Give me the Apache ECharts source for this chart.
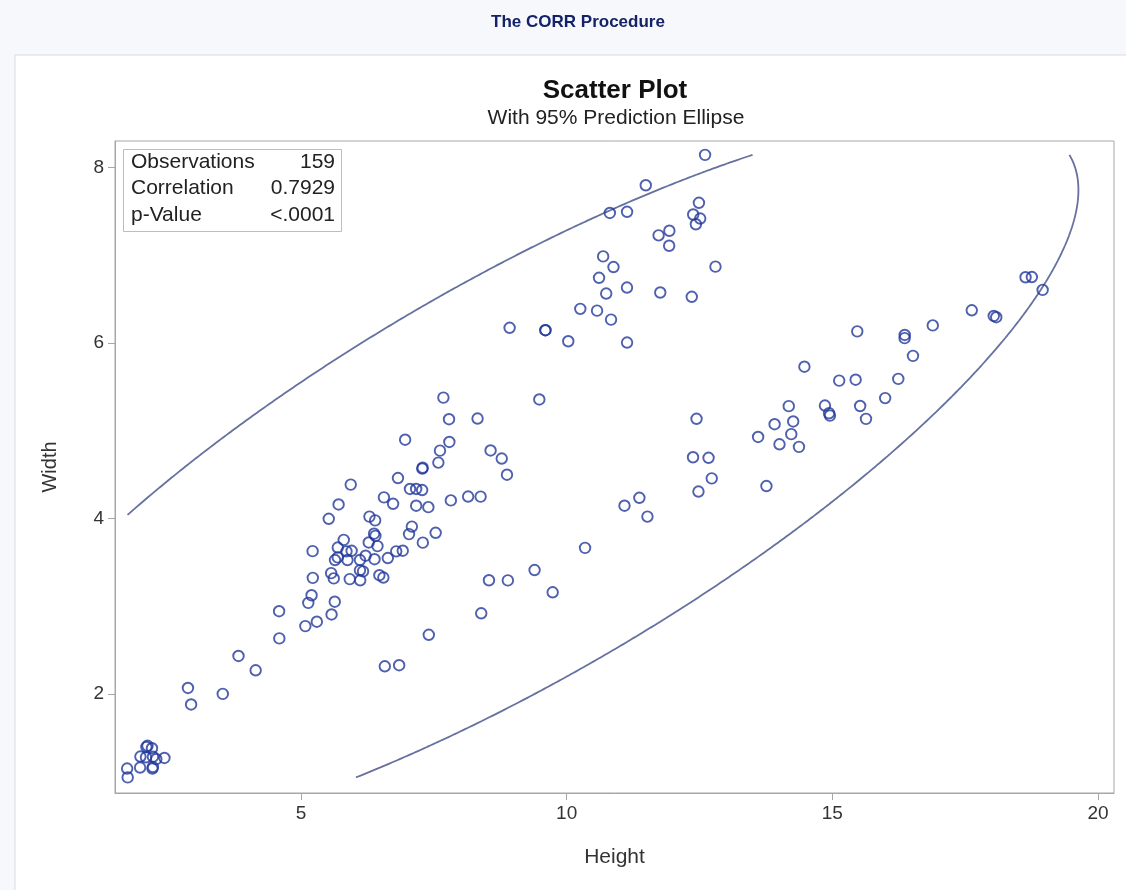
<!DOCTYPE html>
<html><head><meta charset="utf-8">
<script src="https://cdn.jsdelivr.net/npm/echarts@6/dist/echarts.min.js"></script>
<style>html,body{margin:0;padding:0;background:#f7f8fb;}#c{width:1126px;height:890px;}</style>
</head><body><div id="c"></div>
<script>
// Fish data: Height and Width by species
const breamHeight = [11.52,12.48,12.3778,12.73,12.444,13.6024,14.1795,12.67,14.0049,14.2266,14.2628,14.3714,13.7592,13.9129,14.9544,15.438,14.8604,14.938,15.633,14.4738,15.1285,15.9936,15.5227,15.4686,16.2405,16.36,16.3618,16.517,16.8896,18.957,18.0369,18.084,18.7542,18.6354,17.6235];
const breamWidth  = [4.02,4.3056,4.6961,4.4555,5.134,4.9274,5.2785,4.69,4.8438,4.9594,5.1042,4.8146,4.368,5.0728,5.1708,5.58,5.2854,5.1975,5.1338,5.7276,5.5695,5.3704,5.2801,6.1306,5.589,6.0532,6.09,5.8515,6.1984,6.603,6.3063,6.292,6.7497,6.7473,6.3705];
const roachHeight = [4.1472,5.2983,5.5756,5.6166,6.216,6.4752,6.1677,6.1146,5.8045,6.6339,7.0334,6.55,6.4,7.5344,6.9153,7.3968,7.0866,8.8768,8.568,9.485];
const roachWidth  = [2.268,2.8217,2.9044,3.3153,3.5742,3.3516,3.3957,3.2943,3.7544,3.5478,3.8203,3.325,3.8,3.8352,3.6312,4.1272,3.906,4.4968,4.7736,5.355];
const whitefishHeight = [8.3804,8.1454,8.778,10.744,11.7612,12.354];
const whitefishWidth  = [4.2476,4.2485,4.6816,6.562,6.5736,6.525];
const parkkiHeight = [6.8475,6.5772,7.4052,8.3922,8.8928,8.5376,9.396,9.7364,10.3458,11.088,11.368];
const parkkiWidth  = [2.3265,2.3142,2.673,2.9181,3.2928,3.2944,3.4104,3.1571,3.6636,4.144,4.234];
const perchHeight = [2.112,3.528,3.824,4.5924,4.588,5.2224,5.1992,5.6358,5.1376,5.082,5.6925,5.9175,5.6925,6.384,6.11,5.64,6.11,5.875,5.5225,5.856,6.792,5.9532,5.2185,6.275,7.293,6.375,6.7334,6.4395,6.561,7.168,8.323,7.1672,7.0516,7.2828,7.8204,7.5852,7.6156,10.03,10.2565,11.4884,10.881,10.6091,10.835,10.5717,11.1366,11.1366,12.4313,11.9286,11.73,12.3808,11.135,12.8002,11.9328,12.5125,12.604,12.4888];
const perchWidth  = [1.408,1.9992,2.432,2.6316,2.9415,3.3216,3.1234,3.0502,3.0368,2.772,3.555,3.3075,3.6675,3.534,3.4075,3.525,3.525,3.525,3.995,3.624,3.624,3.63,3.626,3.725,3.723,3.825,4.1658,3.6835,4.239,4.144,5.1373,4.335,4.335,4.5662,4.2042,4.6354,4.7716,6.018,6.3875,7.7957,6.864,6.7408,6.2646,6.3666,7.4934,6.003,7.3514,7.1064,7.225,7.4624,6.63,6.8684,7.2772,7.4165,8.142,7.5958];
const pikeHeight = [5.568,5.7078,5.9364,6.2884,7.29,6.396,7.28,6.825,7.786,6.96,7.792,7.68,8.9262,10.6863,9.6,9.6,10.812];
const pikeWidth  = [3.3756,4.158,4.3844,4.0198,4.5765,3.977,4.3225,4.459,5.1296,4.896,4.87,5.376,6.1712,6.9849,6.144,6.144,7.48];
const smeltHeight = [1.7388,1.972,1.7284,2.196,2.0832,1.9782,2.2139,2.2139,2.2044,2.0904,2.43,2.277,2.8728,2.9322];
const smeltWidth  = [1.0476,1.16,1.1484,1.38,1.2772,1.2852,1.2838,1.1659,1.1484,1.3936,1.269,1.2558,2.0672,1.8792];

const xTicks = [5, 10, 15, 20];
const yTicks = [2, 4, 6, 8];
const statLabels = ['Observations', 'Correlation', 'p-Value'];
const statValues = ['159', '0.7929', '<.0001'];

const height = [].concat(breamHeight, roachHeight, whitefishHeight, parkkiHeight, perchHeight, pikeHeight, smeltHeight);
const width  = [].concat(breamWidth, roachWidth, whitefishWidth, parkkiWidth, perchWidth, pikeWidth, smeltWidth);
const points = height.map((h, i) => [h, width[i]]);

// 95% prediction ellipse from the sample mean and covariance
const n = height.length;
const mx = height.reduce((a, b) => a + b, 0) / n;
const my = width.reduce((a, b) => a + b, 0) / n;
let sxx = 0, syy = 0, sxy = 0;
for (let i = 0; i < n; i++) {
  const dx = height[i] - mx, dy = width[i] - my;
  sxx += dx * dx; syy += dy * dy; sxy += dx * dy;
}
sxx /= (n - 1); syy /= (n - 1); sxy /= (n - 1);
const Fq = ((n - 2) / 2) * (Math.pow(0.05, -2 / (n - 2)) - 1); // F(0.95; 2, n-2)
const cval = 2 * (n - 1) * (n + 1) / (n * (n - 2)) * Fq;
const r = Math.sqrt(cval);
const la = Math.sqrt(sxx), lb = sxy / la, ld = Math.sqrt(syy - lb * lb);
function ell(t) {
  const u = Math.cos(t), v = Math.sin(t);
  return [mx + r * la * u, my + r * (lb * u + ld * v)];
}
const xlo = Math.min(...height), ylo = Math.min(...width), yhi = Math.max(...width);
function inside(p) { return p[0] >= xlo && p[1] >= ylo && p[1] <= yhi; }
function cross(t0, t1) {
  const in0 = inside(ell(t0));
  for (let k = 0; k < 40; k++) {
    const tm = (t0 + t1) / 2;
    if (inside(ell(tm)) === in0) t0 = tm; else t1 = tm;
  }
  return ell((t0 + t1) / 2);
}
const N = 1440;
let startIdx = 0;
for (let i = 0; i < N; i++) { if (!inside(ell(2 * Math.PI * i / N))) { startIdx = i; break; } }
const segments = [];
let cur = null;
for (let k = 0; k <= N; k++) {
  const t = 2 * Math.PI * (startIdx + k) / N;
  const tp = 2 * Math.PI * (startIdx + k - 1) / N;
  const p = ell(t);
  const pin = inside(p);
  if (k > 0) {
    const prevIn = inside(ell(tp));
    if (!prevIn && pin) { cur = [cross(tp, t)]; }
    if (prevIn && !pin && cur) { cur.push(cross(tp, t)); segments.push(cur); cur = null; }
  }
  if (pin && cur) cur.push(p);
}

const markerColor = '#22389a';
const ellColor = '#66719f';
const series = [{
  type: 'scatter',
  data: points,
  symbol: 'circle',
  symbolSize: 10.5,
  itemStyle: { color: 'rgba(0,0,0,0)', borderColor: markerColor, borderWidth: 1.9 },
  z: 3
}];
segments.forEach(seg => series.push({
  type: 'line', data: seg, showSymbol: false, symbol: 'none', smooth: false,
  lineStyle: { color: ellColor, width: 1.8 }, z: 2, silent: true
}));

const font = '"Liberation Sans", Arial, sans-serif';
const chart = echarts.init(document.getElementById('c'), null, { renderer: 'canvas' });
chart.setOption({
  animation: false,
  backgroundColor: '#f7f8fb',
  textStyle: { fontFamily: font },
  grid: { left: 115, right: 12, top: 141, bottom: 97, show: true, borderColor: '#a6a6a6', borderWidth: 1, backgroundColor: '#fff' },
  xAxis: {
    type: 'value', min: 1.5, max: 20.3,
    name: 'Height', nameLocation: 'middle', nameGap: 54,
    nameTextStyle: { fontSize: 21, color: '#333', fontFamily: font },
    axisLine: { show: true, onZero: false, lineStyle: { color: '#a6a6a6' } },
    axisTick: { show: true, customValues: xTicks, length: 7, lineStyle: { color: '#a6a6a6' } },
    axisLabel: { customValues: xTicks, fontSize: 19, color: '#333', margin: 11, fontFamily: font },
    splitLine: { show: false }
  },
  yAxis: {
    type: 'value', min: 0.87, max: 8.3,
    name: 'Width', nameLocation: 'middle', nameGap: 55, nameRotate: 90,
    nameTextStyle: { fontSize: 20, color: '#333', fontFamily: font },
    axisLine: { show: true, onZero: false, lineStyle: { color: '#a6a6a6' } },
    axisTick: { show: true, customValues: yTicks, length: 7, lineStyle: { color: '#a6a6a6' } },
    axisLabel: { customValues: yTicks, fontSize: 19, color: '#333', margin: 11, fontFamily: font },
    splitLine: { show: false }
  },
  graphic: [
    { type: 'rect', z: -10, shape: { x: 15, y: 55, width: 1200, height: 900 }, style: { fill: '#fff', stroke: '#d8dbe2', lineWidth: 1 } },
    { type: 'text', x: 578, y: 22, style: { text: 'The CORR Procedure', fill: '#14226a', font: 'bold 17px ' + font, textAlign: 'center', textVerticalAlign: 'middle' } },
    { type: 'text', x: 615, y: 91, style: { text: 'Scatter Plot', fill: '#111', font: 'bold 26px ' + font, textAlign: 'center', textVerticalAlign: 'middle' } },
    { type: 'text', x: 616, y: 118, style: { text: 'With 95% Prediction Ellipse', fill: '#222', font: '21px ' + font, textAlign: 'center', textVerticalAlign: 'middle' } },
    { type: 'rect', z: 10, shape: { x: 123.5, y: 149.5, width: 218, height: 82 }, style: { fill: '#fff', stroke: '#bdbdbd', lineWidth: 1 } },
    ...statLabels.map((s, i) => ({ type: 'text', z: 11, x: 131, y: 162 + i * 26.5, style: { text: s, fill: '#222', font: '21px ' + font, textAlign: 'left', textVerticalAlign: 'middle' } })),
    ...statValues.map((s, i) => ({ type: 'text', z: 11, x: 335, y: 162 + i * 26.5, style: { text: s, fill: '#222', font: '21px ' + font, textAlign: 'right', textVerticalAlign: 'middle' } }))
  ],
  series: series
});
</script></body></html>
